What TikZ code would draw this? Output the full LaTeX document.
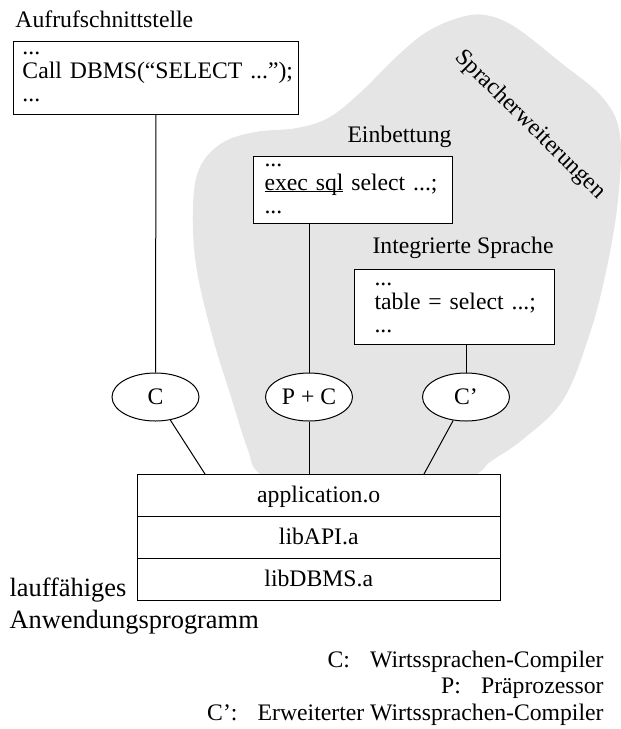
\documentclass[tikz,border=0pt]{standalone}
\usepackage{fontspec}
\setmainfont{Liberation Serif}
\usetikzlibrary{positioning, shapes.geometric}

\begin{document}
\begin{tikzpicture}[x=1pt, y=-1pt, line width=1pt,
						every node/.append style={font=\fontsize{23.7}{23.5}\selectfont},
						codebox/.style={draw, rectangle, fill=white, align=left, anchor=north west, inner ysep=0pt},
						tool/.style={draw, ellipse, fill=white, minimum width=87pt, minimum height=48pt, inner sep=0pt},
						layer/.style={draw, rectangle, fill=white, minimum width=362.5pt, minimum height=42pt, inner sep=0pt, outer sep=0pt, text height=17pt, text depth=2pt},
						heading/.style={inner sep=0pt},
						bigheading/.style={inner sep=0pt, anchor=base west, font=\fontsize{26.4}{32}\selectfont},
						legendline/.style={inner sep=0pt, anchor=base east}]
		\useasboundingbox (0,0) rectangle (621,729);

		\fill[black!10] plot[smooth cycle, tension=0.6] coordinates {
			(262,476) (248,450) (232,400) (212,335) (196,265) (193,205) (200,167) (222,143)
			(255,132) (297,128) (330,117) (363,90) (393,60) (425,33) (458,18) (485,15)
			(515,27) (560,62) (603,98) (620,135) (618,200) (607,267) (590,333) (563,400)
			(522,440) (490,462) (474,476) (400,520) (330,520)};
		\node (ext) [rotate=-44.5] at (530,125) {Spracherweiterungen};

		\node (call) [codebox, inner xsep=9pt, text width=267pt, text height=13pt, text depth=59.5pt] at (13,41) {...\\\mbox{Call DBMS(“SELECT ...”);}\\...};
		\node (emb) [codebox, inner xsep=11pt, text width=177pt, text height=10pt, text depth=57pt] at (253,156) {...\\\mbox{\underline{\smash{exec sql}} select ...;}\\...};
		\node (integ) [codebox, inner xsep=20pt, text width=160pt, text height=16pt, text depth=59pt] at (354,269) {...\\\mbox{table = select ...;}\\...};

		\node (callLbl) [heading, anchor=base west] at ([shift={(2,-14)}]call.north west) {Aufrufschnittstelle};
		\node (embLbl) [heading, anchor=base east] at ([shift={(-1,-14)}]emb.north east) {Einbettung};
		\node (integLbl) [heading, anchor=base east] at ([shift={(-1,-16)}]integ.north east) {Integrierte Sprache};

		\node (c) [tool] at (155.5,397) {C};
		\node (pc) [tool] at (309,397) {P + C};
		\node (cp) [tool] at (466,397) {C’};

		\node (app) [layer, anchor=north west] at (137.5,474) {application.o};
		\node (api) [layer, below=0pt of app] {libAPI.a};
		\node (dbms) [layer, below=0pt of api] {libDBMS.a};
		\coordinate (inC) at ([xshift=-113.75pt]app.north);
		\coordinate (inCp) at ([xshift=105.25pt]app.north);

		\node (lauf) [bigheading] at (9,596) {lauffähiges};
		\node (anw) [bigheading] at (9,628) {Anwendungsprogramm};

		\node (legC) [legendline] at (604,667) {C:\hspace{0.85em}Wirtssprachen-Compiler};
		\node (legP) [legendline] at (604,693.5) {P:\hspace{0.85em}Präprozessor};
		\node (legCp) [legendline] at (604,720) {C’:\hspace{0.85em}Erweiterter Wirtssprachen-Compiler};

		\draw 	(call) 				-- 	(c);
		\draw 	(emb.south -| pc) 	-- 	(pc);
		\draw 	(integ.south -| cp) -- 	(cp);
		\draw 	(c) 				-- 	(inC);
		\draw 	(pc) 				-- 	(pc |- app.north);
		\draw 	(cp) 				-- 	(inCp);
	\end{tikzpicture}
\end{document}
